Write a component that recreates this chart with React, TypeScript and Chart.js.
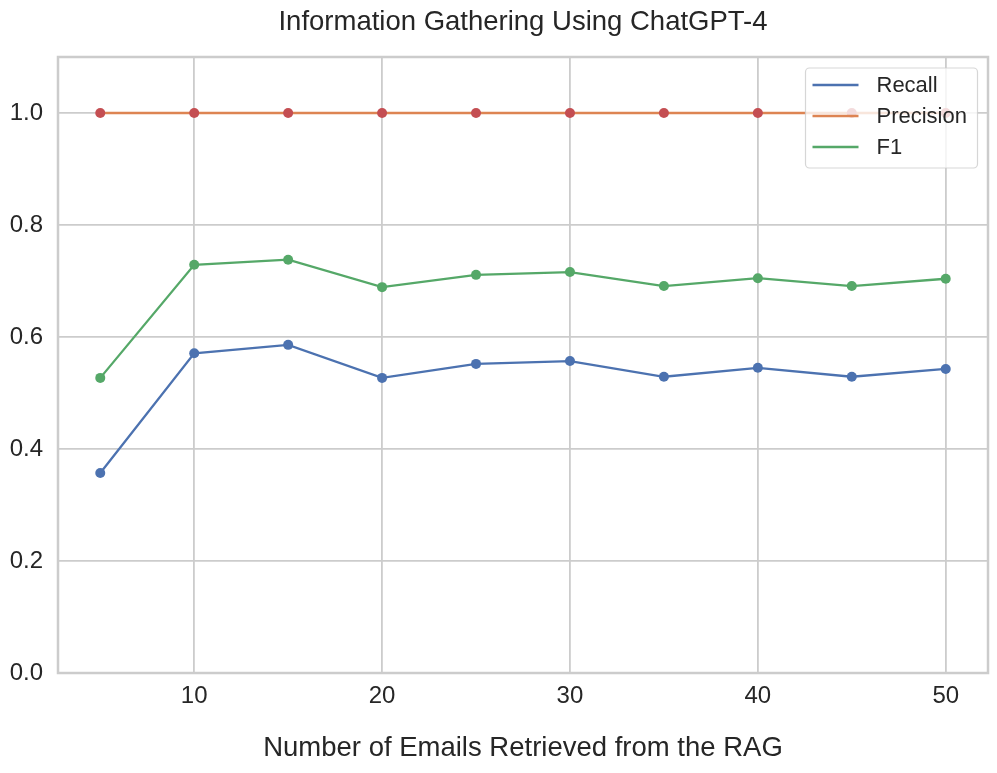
import { useEffect, useRef } from 'react'
import { Chart, registerables } from 'chart.js'

Chart.register(...registerables)

const emails = [5, 10, 15, 20, 25, 30, 35, 40, 45, 50]
const recall = [0.357, 0.571, 0.586, 0.527, 0.552, 0.557, 0.529, 0.545, 0.529, 0.543]
const precision = [1, 1, 1, 1, 1, 1, 1, 1, 1, 1]
const f1 = [0.527, 0.729, 0.738, 0.689, 0.711, 0.716, 0.691, 0.705, 0.691, 0.704]
const xTicks = [10, 20, 30, 40, 50]
const yTicks = [0, 0.2, 0.4, 0.6, 0.8, 1.0]

const FONT = '"Liberation Sans", Arial, sans-serif'
const TEXT = '#262626'
const GRID = '#cccccc'
const TITLE = 'Information Gathering Using ChatGPT-4'

const legendItems = [
  { label: 'Recall', color: '#4c72b0' },
  { label: 'Precision', color: '#dd8452' },
  { label: 'F1', color: '#55a868' },
]

// title centred over the axes, spines on all four sides, legend box inside the axes
const framePlugin = {
  id: 'frame',
  beforeDatasetsDraw(chart: Chart) {
    const { ctx, chartArea: a } = chart
    ctx.save()
    ctx.strokeStyle = GRID
    ctx.lineWidth = 2.5
    ctx.strokeRect(a.left, a.top, a.right - a.left, a.bottom - a.top)
    ctx.fillStyle = TEXT
    ctx.font = `27.5px ${FONT}`
    ctx.textAlign = 'center'
    ctx.textBaseline = 'middle'
    ctx.fillText(TITLE, (a.left + a.right) / 2, 22)
    ctx.restore()
  },
  afterDraw(chart: Chart) {
    const { ctx, chartArea: a } = chart
    const w = 172, h = 100
    const x = a.right - 10.5 - w
    const y = a.top + 11
    ctx.save()
    ctx.beginPath()
    ctx.roundRect(x, y, w, h, 4)
    ctx.fillStyle = 'rgba(255,255,255,0.8)'
    ctx.fill()
    ctx.strokeStyle = 'rgba(204,204,204,0.8)'
    ctx.lineWidth = 1.2
    ctx.stroke()
    ctx.font = `22px ${FONT}`
    ctx.textBaseline = 'middle'
    legendItems.forEach((it, i) => {
      const cy = y + 17 + i * 31
      ctx.strokeStyle = it.color
      ctx.lineWidth = 2.3
      ctx.beginPath()
      ctx.moveTo(x + 7, cy)
      ctx.lineTo(x + 53, cy)
      ctx.stroke()
      ctx.fillStyle = TEXT
      ctx.fillText(it.label, x + 71, cy + 1)
    })
    ctx.restore()
  },
}

export default function App() {
  const canvasRef = useRef<HTMLCanvasElement>(null)
  const chartRef = useRef<Chart | null>(null)

  useEffect(() => {
    if (!canvasRef.current) return
    chartRef.current?.destroy()

    const line = (label: string, data: number[], color: string, pointColor: string) => ({
      label,
      data: emails.map((e, i) => ({ x: e, y: data[i] })),
      borderColor: color,
      backgroundColor: pointColor,
      pointBackgroundColor: pointColor,
      pointBorderColor: pointColor,
      pointRadius: 5,
      pointBorderWidth: 0,
      borderWidth: 2.3,
      tension: 0,
    })

    chartRef.current = new Chart(canvasRef.current, {
      type: 'line',
      data: {
        datasets: [
          line('Recall', recall, '#4c72b0', '#4c72b0'),
          line('Precision', precision, '#dd8452', '#c44e52'),
          line('F1', f1, '#55a868', '#55a868'),
        ],
      },
      options: {
        animation: false,
        responsive: true,
        maintainAspectRatio: false,
        layout: { padding: { left: 0, right: 9, top: 57, bottom: 0 } },
        plugins: {
          legend: { display: false },
          tooltip: { enabled: false },
          title: { display: false },
        },
        scales: {
          x: {
            type: 'linear',
            min: 2.75,
            max: 52.25,
            afterBuildTicks: (s: any) => { s.ticks = xTicks.map(v => ({ value: v })) },
            afterFit: (s: any) => { s.height = 100 },
            grid: { color: GRID, lineWidth: 1.8, drawTicks: false },
            border: { display: false },
            ticks: {
              color: TEXT,
              padding: 9,
              font: { family: FONT, size: 24 },
              callback: (v: any) => String(v),
            },
            title: {
              display: true,
              text: 'Number of Emails Retrieved from the RAG',
              color: TEXT,
              font: { family: FONT, size: 27.5 },
              padding: { top: 0, bottom: 8 },
            },
          },
          y: {
            min: 0,
            max: 1.1,
            afterBuildTicks: (s: any) => { s.ticks = yTicks.map(v => ({ value: v })) },
            afterFit: (s: any) => { s.width = 58 },
            grid: { color: GRID, lineWidth: 1.8, drawTicks: false },
            border: { display: false },
            ticks: {
              color: TEXT,
              padding: 15,
              font: { family: FONT, size: 24 },
              callback: (v: any) => Number(v).toFixed(1),
            },
          },
        },
      },
      plugins: [framePlugin],
    })

    return () => { chartRef.current?.destroy() }
  }, [])

  return (
    <div style={{ position: 'absolute', left: 0, top: 0, width: 997, height: 773, background: '#fff' }}>
      <canvas ref={canvasRef} />
    </div>
  )
}
